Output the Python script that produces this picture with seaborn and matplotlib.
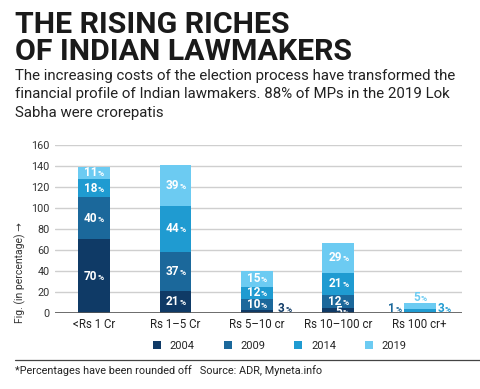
import matplotlib
matplotlib.use("Agg")
import matplotlib.pyplot as plt
import seaborn as sns
import numpy as np
import pandas as pd
from matplotlib.patches import Patch
from matplotlib.lines import Line2D
from matplotlib.offsetbox import TextArea, HPacker, AnnotationBbox

categories = ["<Rs 1 Cr", "Rs 1\u20135 Cr", "Rs 5\u201310 cr", "Rs 10\u2013100 cr", "Rs 100 cr+"]
years = ["2004", "2009", "2014", "2019"]
v2004 = [70, 21, 3, 5, 0]
v2009 = [40, 37, 10, 12, 1]
v2014 = [18, 44, 12, 21, 3]
v2019 = [11, 39, 15, 29, 5]
yticks = [0, 20, 40, 60, 80, 100, 120, 140, 160]
colors = ["#0f3a66", "#1b689b", "#1f9bd1", "#6ccbf2"]

title = "THE RISING RICHES\nOF INDIAN LAWMAKERS"
subtitle = ("The increasing costs of the election process have transformed the\n"
            "financial profile of Indian lawmakers. 88% of MPs in the 2019 Lok\n"
            "Sabha were crorepatis")
footnote = "*Percentages have been rounded off   Source: ADR, Myneta.info"

sns.set_theme(style="white")
COND = ["Liberation Sans Narrow", "Roboto", "DejaVu Sans"]
plt.rcParams["font.family"] = ["Roboto", "DejaVu Sans"]

fig = plt.figure(figsize=(4.8, 3.89), dpi=100)
ax = fig.add_axes([0.1146, 0.196, 0.848, 0.431])

series = [v2004, v2009, v2014, v2019]
cum = np.cumsum(np.array(series), axis=0)
df = pd.DataFrame({"cat": categories})
for i in range(3, -1, -1):
    df["top"] = cum[i]
    sns.barplot(data=df, x="cat", y="top", color=colors[i], width=0.39,
                saturation=1, ax=ax, zorder=3, linewidth=0, order=categories)

ax.set_xlim(-0.48, 4.52)
ax.set_ylim(0, 160)
ax.set_yticks(yticks)
ax.set_yticklabels([str(t) for t in yticks], family=COND, fontsize=7.8, color="#333333")
ax.set_xticklabels(categories, family=COND, fontsize=8.3, color="#222222")
ax.tick_params(axis="both", length=0, pad=4)
ax.set_xlabel("")
ax.set_ylabel("")
for s in ax.spines.values():
    s.set_visible(False)
ax.yaxis.grid(True, color="#cfcfcf", linewidth=1, zorder=0)
ax.axhline(0, color="#555555", linewidth=1.2, zorder=7)


def pct_label(x, y, num, color, ha=0.5, z=6):
    t1 = TextArea(str(num), textprops=dict(family=COND, fontsize=8.5,
                                           fontweight="bold", color=color))
    t2 = TextArea("%", textprops=dict(family=COND, fontsize=6,
                                      fontweight="bold", color=color))
    pk = HPacker(children=[t1, t2], align="baseline", pad=0, sep=0.5)
    ab = AnnotationBbox(pk, (x, y), xycoords="data", frameon=False,
                        box_alignment=(ha, 0.5), pad=0, zorder=z,
                        annotation_clip=False)
    ax.add_artist(ab)


def clipped_label(x, y, num, color):
    # label sitting on the baseline, cut off by the axis like the original
    ax.annotate(str(num), (x, y), xytext=(2.5, 0), textcoords="offset points",
                ha="right", va="center", family=COND, fontsize=8.5,
                fontweight="bold", color=color, clip_on=True, zorder=5)
    ax.annotate("%", (x, y), xytext=(3.0, -0.8), textcoords="offset points",
                ha="left", va="center", family=COND, fontsize=6,
                fontweight="bold", color=color, clip_on=True, zorder=5)


for ci in range(len(categories)):
    bottom = 0
    for si in range(4):
        v = series[si][ci]
        if v >= 5 and ci != 4:
            if v == 5:
                clipped_label(ci, 1.5, v, "white")
            else:
                pct_label(ci, bottom + v / 2, v, "white")
        bottom += v

# values too small to fit inside their bars
pct_label(2 + 0.26, 4, v2004[2], colors[0], ha=0.0)
pct_label(4 - 0.22, 4, v2009[4], colors[1], ha=1.0)
pct_label(4 + 0.22, 4, v2014[4], colors[2], ha=0.0)
pct_label(4, cum[3][4] + 6, v2019[4], colors[3])

fig.text(0.042, 0.30, "Fig. (in percentage) \u2192", rotation=90, ha="center",
         va="center", family=COND, fontsize=7.5, color="#333333")

fig.text(0.031, 0.972, title, ha="left", va="top", fontsize=21.8, fontweight="bold",
         color="#1a1a1a", linespacing=0.95)
fig.text(0.031, 0.823, subtitle, ha="left", va="top", fontsize=10.8,
         color="#222222", linespacing=1.42)

handles = [Patch(facecolor=c, edgecolor="none") for c in colors]
fig.legend(handles, years, loc="center", bbox_to_anchor=(0.583, 1 - 346 / 389),
           ncol=4, frameon=False, handlelength=0.7, handleheight=0.7,
           handletextpad=0.8, columnspacing=2.6,
           prop=dict(family=COND, size=8))

fig.add_artist(Line2D([15 / 480, 1.0], [1 - 360 / 389] * 2, color="#444444",
                      linewidth=0.9))
fig.text(15 / 480, 1 - 371 / 389, footnote, ha="left", va="center",
         fontsize=7.8, color="#222222")

fig.savefig("out.png", dpi=100)
